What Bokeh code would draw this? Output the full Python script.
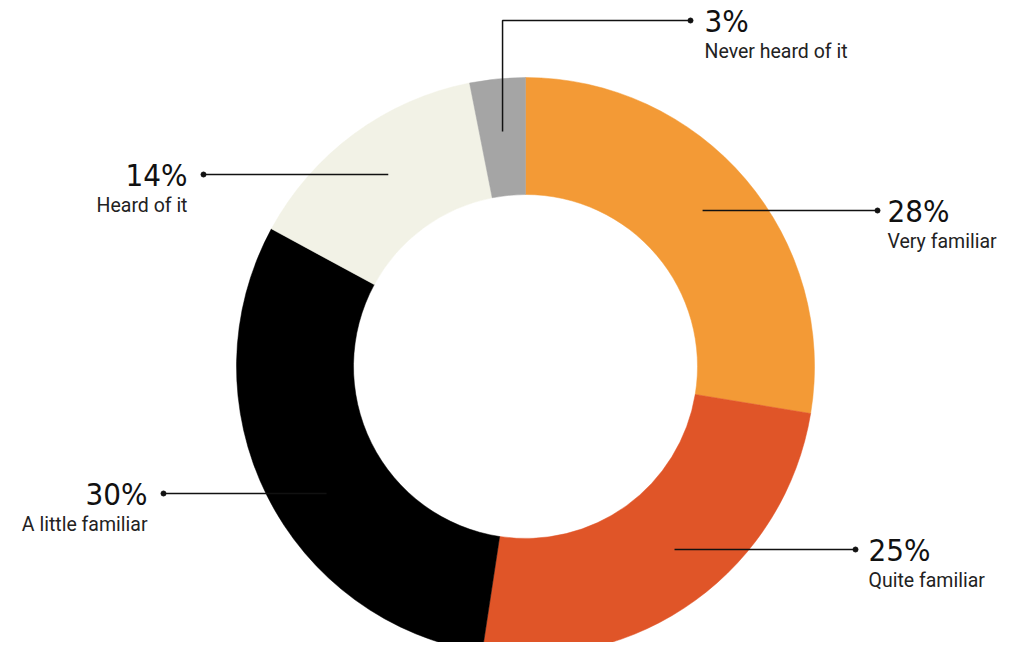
import math
from bokeh.plotting import figure
from bokeh.models import Range1d, ColumnDataSource
from bokeh.core.properties import value
from bokeh.embed import file_html
from bokeh.resources import INLINE

# ---------------- data ----------------
categories = ["Very familiar", "Quite familiar", "A little familiar", "Heard of it", "Never heard of it"]
shares = [27.6, 24.8, 30.5, 14.0, 3.1]
pct_labels = ["28%", "25%", "30%", "14%", "3%"]
colors = ["#F39A36", "#E05528", "#000000", "#F2F2E6", "#A5A5A5"]

# ---------------- layout (page pixel space, y downward) ----------------
CX, CY = 525, 366
R_OUT, R_IN = 289, 172
R_LEAD = 236
label_side = ["right", "right", "left", "left", "elbow"]
line_y = [210, 549, 493, 174, 20]
dot_x = [877, 855, 163, 203, 690]
text_x = [887, 868, 147, 187, 704]

W, H = 999, 642
p = figure(width=W, height=H, output_backend="svg", toolbar_location=None,
           x_range=Range1d(0, W), y_range=Range1d(-H, 0),
           min_border=0, background_fill_color="white", border_fill_color="white")
p.axis.visible = False
p.grid.visible = False
p.outline_line_color = None

total = sum(shares)
starts, ends, mids = [], [], []
acc = 0.0
for s in shares:
    a0 = math.pi / 2 - 2 * math.pi * acc / total
    mids.append(math.pi / 2 - 2 * math.pi * (acc + s / 2) / total)
    acc += s
    a1 = math.pi / 2 - 2 * math.pi * acc / total
    starts.append(a1)
    ends.append(a0)

src = ColumnDataSource(dict(cat=categories, share=shares, start=starts, end=ends, color=colors))
p.annular_wedge(x=CX, y=-CY, inner_radius=R_IN, outer_radius=R_OUT,
                start_angle="start", end_angle="end", fill_color="color",
                line_color="color", line_width=0.5, source=src)

# leader lines
xs, ys = [], []
for i, side in enumerate(label_side):
    ly = line_y[i]
    if side == "elbow":
        sx = CX + R_LEAD * math.cos(mids[i])
        sy = CY - R_LEAD * math.sin(mids[i])
        xs.append([sx, sx, dot_x[i]])
        ys.append([-sy, -ly, -ly])
    else:
        dy = ly - CY
        dx = math.sqrt(max(R_LEAD ** 2 - dy ** 2, 0))
        sx = CX + dx if side == "right" else CX - dx
        xs.append([sx, dot_x[i]])
        ys.append([-ly, -ly])
p.multi_line(xs=xs, ys=ys, line_color="#111111", line_width=1.5)
p.scatter(x=dot_x, y=[-v for v in line_y], size=5, color="#111111")

align = ["left" if s in ("right", "elbow") else "right" for s in label_side]
tsrc = ColumnDataSource(dict(x=text_x, y=[-v for v in line_y], pct=pct_labels,
                             y2=[-(v + 31) for v in line_y], cat=categories, align=align))
p.text(x="x", y="y", text="pct", text_align="align", text_baseline="middle",
       text_font=value("DejaVu Sans Condensed"),
       text_font_size="31px", text_color="#111111", source=tsrc)
p.text(x="x", y="y2", text="cat", text_align="align", text_baseline="alphabetic",
       text_font=value("Roboto"), text_font_size="19.5px", text_color="#222222", source=tsrc)

open("out.html", "w").write(file_html(p, INLINE))
